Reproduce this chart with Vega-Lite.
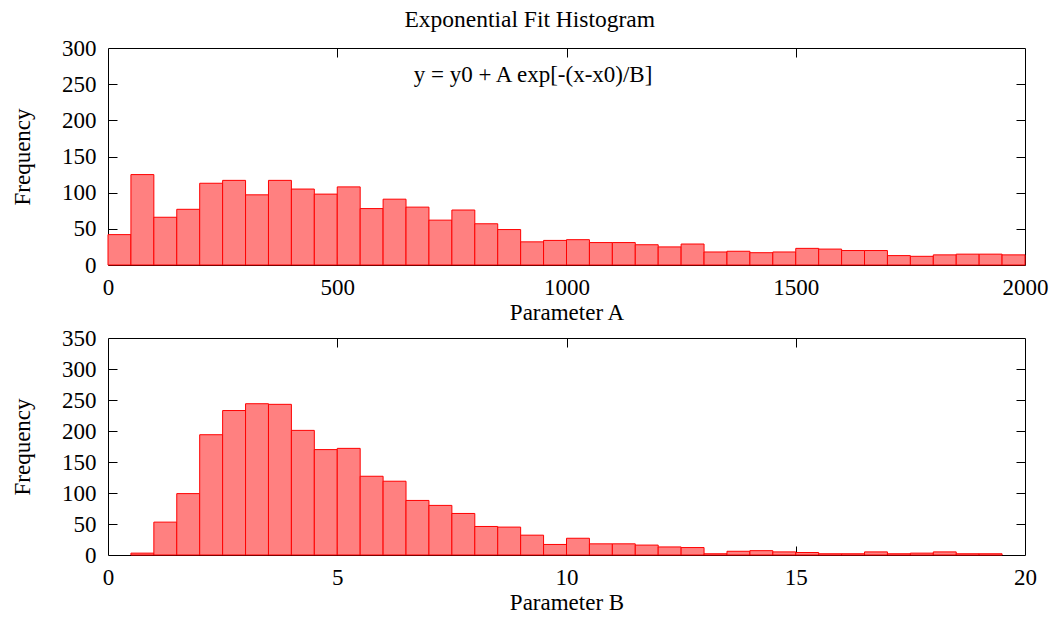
{
  "$schema": "https://vega.github.io/schema/vega-lite/v6.json",
  "background": "white",
  "padding": {"left": 11, "top": 8, "right": 4, "bottom": 4},
  "title": {
    "text": "Exponential Fit Histogram",
    "font": "Liberation Serif",
    "fontSize": 23.5,
    "fontWeight": "normal",
    "color": "black",
    "anchor": "middle",
    "offset": 5
  },
  "config": {
    "view": {"stroke": "black", "strokeWidth": 1},
    "axis": {
      "labelFont": "Liberation Serif",
      "labelFontSize": 23,
      "labelColor": "black",
      "labelFlush": false,
      "titleFont": "Liberation Serif",
      "titleFontSize": 23,
      "titleFontWeight": "normal",
      "titleColor": "black",
      "tickColor": "black",
      "tickWidth": 1,
      "grid": false,
      "domain": false,
      "format": "d"
    }
  },
  "bounds": "flush",
  "spacing": 73,
  "vconcat": [
    {
      "width": 917,
      "height": 217,
      "data": {
        "values": [
          {"start": 0, "end": 50, "count": 42},
          {"start": 50, "end": 100, "count": 125},
          {"start": 100, "end": 150, "count": 66},
          {"start": 150, "end": 200, "count": 77},
          {"start": 200, "end": 250, "count": 113},
          {"start": 250, "end": 300, "count": 117},
          {"start": 300, "end": 350, "count": 97},
          {"start": 350, "end": 400, "count": 117},
          {"start": 400, "end": 450, "count": 105},
          {"start": 450, "end": 500, "count": 98},
          {"start": 500, "end": 550, "count": 108},
          {"start": 550, "end": 600, "count": 78},
          {"start": 600, "end": 650, "count": 91},
          {"start": 650, "end": 700, "count": 80},
          {"start": 700, "end": 750, "count": 62},
          {"start": 750, "end": 800, "count": 76},
          {"start": 800, "end": 850, "count": 57},
          {"start": 850, "end": 900, "count": 49},
          {"start": 900, "end": 950, "count": 32},
          {"start": 950, "end": 1000, "count": 34},
          {"start": 1000, "end": 1050, "count": 35},
          {"start": 1050, "end": 1100, "count": 31},
          {"start": 1100, "end": 1150, "count": 31},
          {"start": 1150, "end": 1200, "count": 28},
          {"start": 1200, "end": 1250, "count": 25},
          {"start": 1250, "end": 1300, "count": 29},
          {"start": 1300, "end": 1350, "count": 18},
          {"start": 1350, "end": 1400, "count": 19},
          {"start": 1400, "end": 1450, "count": 17},
          {"start": 1450, "end": 1500, "count": 18},
          {"start": 1500, "end": 1550, "count": 23},
          {"start": 1550, "end": 1600, "count": 22},
          {"start": 1600, "end": 1650, "count": 20},
          {"start": 1650, "end": 1700, "count": 20},
          {"start": 1700, "end": 1750, "count": 13},
          {"start": 1750, "end": 1800, "count": 12},
          {"start": 1800, "end": 1850, "count": 14},
          {"start": 1850, "end": 1900, "count": 15},
          {"start": 1900, "end": 1950, "count": 15},
          {"start": 1950, "end": 2000, "count": 14}
        ]
      },
      "layer": [
        {
          "mark": {"type": "bar", "fill": "#ff8080", "stroke": "#ff0000", "strokeWidth": 1},
          "encoding": {
            "x": {
              "field": "start", "type": "quantitative",
              "scale": {"domain": [0, 2000], "nice": false},
              "axis": {"title": "Parameter A", "values": [0, 500, 1000, 1500, 2000], "ticks": false, "labelPadding": 11, "titlePadding": 2}
            },
            "x2": {"field": "end"},
            "y": {
              "field": "count", "type": "quantitative",
              "scale": {"domain": [0, 300], "nice": false},
              "axis": {"title": "Frequency", "values": [0, 50, 100, 150, 200, 250, 300], "ticks": false, "labelPadding": 12, "titlePadding": 27}
            },
            "y2": {"datum": 0}
          }
        },
        {
          "mark": {"type": "bar", "opacity": 0},
          "encoding": {
            "x": {
              "field": "start", "type": "quantitative",
              "scale": {"domain": [0, 2000], "nice": false},
              "axis": {"orient": "bottom", "offset": -9, "tickSize": 9, "labels": false, "title": null, "values": [500, 1000, 1500]}
            },
            "x2": {"field": "end"},
            "y": {
              "field": "count", "type": "quantitative",
              "scale": {"domain": [0, 300], "nice": false},
              "axis": {"orient": "left", "offset": -9, "tickSize": 9, "labels": false, "title": null, "values": [50, 100, 150, 200, 250]}
            },
            "y2": {"datum": 0}
          }
        },
        {
          "mark": {"type": "bar", "opacity": 0},
          "encoding": {
            "x": {
              "field": "start", "type": "quantitative",
              "scale": {"domain": [0, 2000], "nice": false},
              "axis": {"orient": "top", "offset": -9, "tickSize": 9, "labels": false, "title": null, "values": [500, 1000, 1500]}
            },
            "x2": {"field": "end"},
            "y": {
              "field": "count", "type": "quantitative",
              "scale": {"domain": [0, 300], "nice": false},
              "axis": {"orient": "right", "offset": -9, "tickSize": 9, "labels": false, "title": null, "values": [50, 100, 150, 200, 250]}
            },
            "y2": {"datum": 0}
          }
        },
        {
          "data": {"values": [{"xpos": 927, "ypos": 262, "label": "y = y0 + A exp[-(x-x0)/B]"}]},
          "mark": {"type": "text", "font": "Liberation Serif", "fontSize": 23, "color": "black", "align": "center", "baseline": "middle"},
          "encoding": {
            "x": {"field": "xpos", "type": "quantitative", "scale": {"domain": [0, 2000], "nice": false}, "axis": null},
            "y": {"field": "ypos", "type": "quantitative", "scale": {"domain": [0, 300], "nice": false}, "axis": null},
            "text": {"field": "label"}
          }
        }
      ],
      "resolve": {"axis": {"x": "independent", "y": "independent"}}
    },
    {
      "width": 917,
      "height": 217,
      "data": {
        "values": [
          {"start": 0.5, "end": 1.0, "count": 3},
          {"start": 1.0, "end": 1.5, "count": 53},
          {"start": 1.5, "end": 2.0, "count": 99},
          {"start": 2.0, "end": 2.5, "count": 194},
          {"start": 2.5, "end": 3.0, "count": 233},
          {"start": 3.0, "end": 3.5, "count": 244},
          {"start": 3.5, "end": 4.0, "count": 243},
          {"start": 4.0, "end": 4.5, "count": 201},
          {"start": 4.5, "end": 5.0, "count": 170},
          {"start": 5.0, "end": 5.5, "count": 172},
          {"start": 5.5, "end": 6.0, "count": 127},
          {"start": 6.0, "end": 6.5, "count": 119},
          {"start": 6.5, "end": 7.0, "count": 88},
          {"start": 7.0, "end": 7.5, "count": 80},
          {"start": 7.5, "end": 8.0, "count": 67},
          {"start": 8.0, "end": 8.5, "count": 46},
          {"start": 8.5, "end": 9.0, "count": 45},
          {"start": 9.0, "end": 9.5, "count": 32},
          {"start": 9.5, "end": 10.0, "count": 17},
          {"start": 10.0, "end": 10.5, "count": 27},
          {"start": 10.5, "end": 11.0, "count": 18},
          {"start": 11.0, "end": 11.5, "count": 18},
          {"start": 11.5, "end": 12.0, "count": 16},
          {"start": 12.0, "end": 12.5, "count": 13},
          {"start": 12.5, "end": 13.0, "count": 12},
          {"start": 13.0, "end": 13.5, "count": 2},
          {"start": 13.5, "end": 14.0, "count": 6},
          {"start": 14.0, "end": 14.5, "count": 7},
          {"start": 14.5, "end": 15.0, "count": 5},
          {"start": 15.0, "end": 15.5, "count": 4},
          {"start": 15.5, "end": 16.0, "count": 2},
          {"start": 16.0, "end": 16.5, "count": 2},
          {"start": 16.5, "end": 17.0, "count": 5},
          {"start": 17.0, "end": 17.5, "count": 2},
          {"start": 17.5, "end": 18.0, "count": 3},
          {"start": 18.0, "end": 18.5, "count": 5},
          {"start": 18.5, "end": 19.0, "count": 2},
          {"start": 19.0, "end": 19.5, "count": 2}
        ]
      },
      "layer": [
        {
          "mark": {"type": "bar", "fill": "#ff8080", "stroke": "#ff0000", "strokeWidth": 1},
          "encoding": {
            "x": {
              "field": "start", "type": "quantitative",
              "scale": {"domain": [0, 20], "nice": false},
              "axis": {"title": "Parameter B", "values": [0, 5, 10, 15, 20], "ticks": false, "labelPadding": 11, "titlePadding": 2}
            },
            "x2": {"field": "end"},
            "y": {
              "field": "count", "type": "quantitative",
              "scale": {"domain": [0, 350], "nice": false},
              "axis": {"title": "Frequency", "values": [0, 50, 100, 150, 200, 250, 300, 350], "ticks": false, "labelPadding": 12, "titlePadding": 27}
            },
            "y2": {"datum": 0}
          }
        },
        {
          "mark": {"type": "bar", "opacity": 0},
          "encoding": {
            "x": {
              "field": "start", "type": "quantitative",
              "scale": {"domain": [0, 20], "nice": false},
              "axis": {"orient": "bottom", "offset": -9, "tickSize": 9, "labels": false, "title": null, "values": [5, 10, 15]}
            },
            "x2": {"field": "end"},
            "y": {
              "field": "count", "type": "quantitative",
              "scale": {"domain": [0, 350], "nice": false},
              "axis": {"orient": "left", "offset": -9, "tickSize": 9, "labels": false, "title": null, "values": [50, 100, 150, 200, 250, 300]}
            },
            "y2": {"datum": 0}
          }
        },
        {
          "mark": {"type": "bar", "opacity": 0},
          "encoding": {
            "x": {
              "field": "start", "type": "quantitative",
              "scale": {"domain": [0, 20], "nice": false},
              "axis": {"orient": "top", "offset": -9, "tickSize": 9, "labels": false, "title": null, "values": [5, 10, 15]}
            },
            "x2": {"field": "end"},
            "y": {
              "field": "count", "type": "quantitative",
              "scale": {"domain": [0, 350], "nice": false},
              "axis": {"orient": "right", "offset": -9, "tickSize": 9, "labels": false, "title": null, "values": [50, 100, 150, 200, 250, 300]}
            },
            "y2": {"datum": 0}
          }
        }
      ],
      "resolve": {"axis": {"x": "independent", "y": "independent"}}
    }
  ]
}
